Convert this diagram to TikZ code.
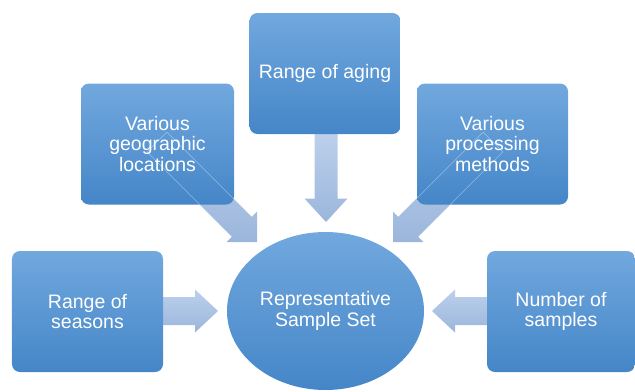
\documentclass[tikz,border=0pt]{standalone}
\usepackage{fontspec}
\setmainfont{Liberation Sans}
\usetikzlibrary{calc,shapes.geometric}

\definecolor{boxtop}{HTML}{71A8DE}
\definecolor{boxmid}{HTML}{5A9AD6}
\definecolor{boxbot}{HTML}{4586C8}
\definecolor{arrtop}{HTML}{BCD0EC}
\definecolor{arrbot}{HTML}{9BB6DB}

\tikzset{
  labeltext/.style={text=white, align=center,
    font=\fontsize{19.5bp}{20.5bp}\selectfont},
  card/.style={labeltext, rectangle, rounded corners=8bp,
    minimum width=151bp, minimum height=121bp, inner sep=2bp,
    top color=boxtop, middle color=boxmid, bottom color=boxbot},
  hub/.style={labeltext, ellipse, minimum width=197bp, minimum height=158bp,
    inner sep=0pt, top color=boxtop, middle color=boxmid, bottom color=boxbot},
  arrowbody/.style={top color=arrtop, bottom color=arrbot},
  arrowedge/.style={draw=white, draw opacity=0.4, line width=0.45bp},
}

% block arrow: #1 style, #2 start, #3 tip, #4 shaft half width,
% #5 head half width, #6 head length
\newcommand\blockarrow[6]{%
  \path ($(#3)!#6!(#2)$) coordinate (ah);
  \path[#1] ($(#2)!#4!90:(#3)$) -- ($(ah)!#4!90:(#3)$) -- ($(ah)!#5!90:(#3)$)
    -- (#3) -- ($(ah)!#5!-90:(#3)$) -- ($(ah)!#4!-90:(#3)$)
    -- ($(#2)!#4!-90:(#3)$) -- cycle;
}

\begin{document}
\begin{tikzpicture}[x=1bp, y=-1bp]
\useasboundingbox (0,0) rectangle (635,391);

% arrow ends
\coordinate (s1) at (163,311);  \coordinate (t1) at (218,311);
\coordinate (s2) at (157,142);  \coordinate (t2) at (257,242);
\coordinate (s3) at (326,134);  \coordinate (t3) at (326,222);
\coordinate (s4) at (493,142);  \coordinate (t4) at (393,242);
\coordinate (s5) at (487,311);  \coordinate (t5) at (432,311);

% block arrows behind the boxes
\blockarrow{arrowbody}{s1}{t1}{14bp}{21.5bp}{23bp}
\blockarrow{arrowbody}{s2}{t2}{14bp}{21.5bp}{21.5bp}
\blockarrow{arrowbody}{s3}{t3}{11.5bp}{21.5bp}{23.5bp}
\blockarrow{arrowbody}{s4}{t4}{14bp}{21.5bp}{21.5bp}
\blockarrow{arrowbody}{s5}{t5}{14bp}{21.5bp}{23bp}

% boxes
\node[card] (seasons) at (87.5,311.5) {Range of\\seasons};
\node[card, minimum width=153bp] (geo) at (157.5,144) {Various\\geographic\\locations};
\node[card] (aging) at (325,73.5) {Range of aging};
\node[card] (proc) at (492.5,144) {Various\\processing\\methods};
\node[card, minimum width=148bp] (samples) at (561,311.5) {Number of\\samples};

% central ellipse
\node[hub] (set) at (325.5,311) {Representative\\Sample Set};

% faint outlines of the diagonal arrows showing through the boxes
\begin{scope}
  \clip[rounded corners=8bp] (geo.south west) rectangle (geo.north east);
  \blockarrow{arrowedge}{s2}{t2}{14bp}{21.5bp}{21.5bp}
\end{scope}
\begin{scope}
  \clip[rounded corners=8bp] (proc.south west) rectangle (proc.north east);
  \blockarrow{arrowedge}{s4}{t4}{14bp}{21.5bp}{21.5bp}
\end{scope}
\end{tikzpicture}
\end{document}
